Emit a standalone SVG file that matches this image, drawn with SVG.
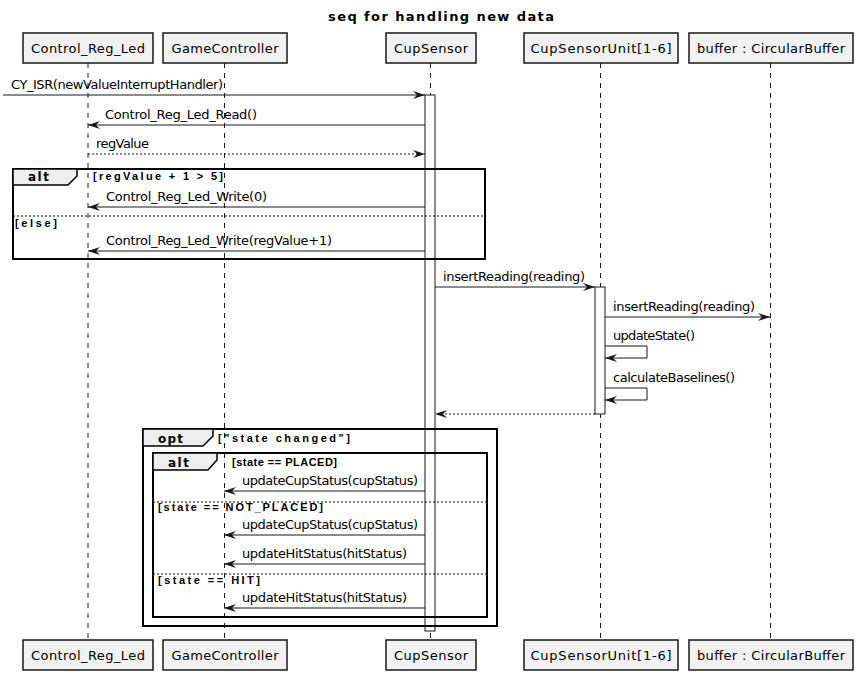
<svg xmlns="http://www.w3.org/2000/svg" width="862" height="680" viewBox="0 0 862 680">
  <style>
    text { font-family: "DejaVu Sans", "Liberation Sans", sans-serif; fill: #000; }
    .title { font-size: 13px; font-weight: bold; }
    .pname { font-size: 13px; }
    .msg { font-size: 13px; }
    .guard { font-family: "Liberation Sans", "DejaVu Sans", sans-serif; font-size: 11px; font-weight: bold; }
    .kw { font-size: 12px; font-weight: bold; }
    .pbox { fill: #F1F1F1; stroke: #181818; stroke-width: 1.5; }
    .life { stroke: #181818; stroke-width: 1; stroke-dasharray: 5,5; fill: none; }
    .act { fill: #FFFFFF; stroke: #181818; stroke-width: 1; }
    .call { stroke: #181818; stroke-width: 1; fill: none; marker-end: url(#head); }
    .ret { stroke: #181818; stroke-width: 1; fill: none; stroke-dasharray: 2,2; marker-end: url(#head); }
    .frame { fill: none; stroke: #000; stroke-width: 2; }
    .tab { fill: #EEEEEE; stroke: #000; stroke-width: 1.5; }
    .sep { stroke: #000; stroke-width: 1; stroke-dasharray: 2,2; }
  </style>
  <defs>
    <marker id="head" markerUnits="userSpaceOnUse" viewBox="0 0 12 10" refX="12" refY="5" markerWidth="12" markerHeight="10" orient="auto">
      <path d="M0,1 L12,5 L0,9 L4,5 Z" fill="#181818"/>
    </marker>
  </defs>

  <text class="title" x="441" y="21" text-anchor="middle" textLength="226">seq for handling new data</text>

  <!-- lifelines -->
  <g id="lifelines">
    <line class="life" x1="88" y1="63" x2="88" y2="640"/>
    <line class="life" x1="224.5" y1="63" x2="224.5" y2="640"/>
    <line class="life" x1="430.5" y1="63" x2="430.5" y2="640"/>
    <line class="life" x1="600.5" y1="63" x2="600.5" y2="640"/>
    <line class="life" x1="770.5" y1="63" x2="770.5" y2="640"/>
  </g>

  <!-- participants -->
  <g id="Control_Reg_Led">
    <rect class="pbox" x="23" y="33" width="130" height="30"/>
    <text class="pname" x="88" y="53" text-anchor="middle" textLength="114">Control_Reg_Led</text>
    <rect class="pbox" x="23" y="640" width="130" height="30"/>
    <text class="pname" x="88" y="660" text-anchor="middle" textLength="114">Control_Reg_Led</text>
  </g>
  <g id="GameController">
    <rect class="pbox" x="163" y="33" width="124" height="30"/>
    <text class="pname" x="225" y="53" text-anchor="middle" textLength="107">GameController</text>
    <rect class="pbox" x="163" y="640" width="124" height="30"/>
    <text class="pname" x="225" y="660" text-anchor="middle" textLength="107">GameController</text>
  </g>
  <g id="CupSensor">
    <rect class="pbox" x="386" y="33" width="90" height="30"/>
    <text class="pname" x="431" y="53" text-anchor="middle" textLength="74">CupSensor</text>
    <rect class="pbox" x="386" y="640" width="90" height="30"/>
    <text class="pname" x="431" y="660" text-anchor="middle" textLength="74">CupSensor</text>
  </g>
  <g id="CupSensorUnit">
    <rect class="pbox" x="524" y="33" width="154" height="30"/>
    <text class="pname" x="601" y="53" text-anchor="middle" textLength="141">CupSensorUnit[1-6]</text>
    <rect class="pbox" x="524" y="640" width="154" height="30"/>
    <text class="pname" x="601" y="660" text-anchor="middle" textLength="141">CupSensorUnit[1-6]</text>
  </g>
  <g id="buffer">
    <rect class="pbox" x="689" y="33" width="164" height="30"/>
    <text class="pname" x="771" y="53" text-anchor="middle" textLength="148">buffer : CircularBuffer</text>
    <rect class="pbox" x="689" y="640" width="164" height="30"/>
    <text class="pname" x="771" y="660" text-anchor="middle" textLength="148">buffer : CircularBuffer</text>
  </g>

  <!-- activations -->
  <g id="activations">
    <rect class="act" x="425" y="95" width="10" height="536"/>
    <rect class="act" x="595" y="287" width="10" height="127"/>
  </g>

  <!-- combined fragments -->
  <g id="fragments">
    <rect class="frame" x="13" y="169" width="472" height="90"/>
    <polygon class="tab" points="13,169 77,169 77,176 68,185 13,185"/>
    <text class="kw" x="28" y="181" textLength="21">alt</text>
    <text class="guard" x="93" y="180" textLength="130">[regValue + 1 &gt; 5]</text>
    <line class="sep" x1="13" y1="216" x2="485" y2="216"/>
    <text class="guard" x="15" y="227" textLength="42">[else]</text>

    <rect class="frame" x="143" y="429" width="354" height="197"/>
    <polygon class="tab" points="143,429 213,429 213,436 203,446 143,446"/>
    <text class="kw" x="158" y="443" textLength="25">opt</text>
    <text class="guard" x="218" y="442" textLength="132">["state changed"]</text>

    <rect class="frame" x="153" y="453" width="334" height="164"/>
    <polygon class="tab" points="153,453 217,453 217,460 208,470 153,470"/>
    <text class="kw" x="168" y="467" textLength="21">alt</text>
    <text class="guard" x="232" y="466" textLength="105">[state == PLACED]</text>
    <line class="sep" x1="153" y1="502" x2="487" y2="502"/>
    <text class="guard" x="158" y="511" textLength="165">[state == NOT_PLACED]</text>
    <line class="sep" x1="153" y1="574" x2="487" y2="574"/>
    <text class="guard" x="158" y="584" textLength="102">[state == HIT]</text>
  </g>

  <!-- messages -->
  <g id="connectors">
    <line class="call" x1="3" y1="95" x2="425" y2="95"/>
    <text class="msg" x="11" y="89" textLength="212">CY_ISR(newValueInterruptHandler)</text>

    <line class="call" x1="425" y1="125" x2="88" y2="125"/>
    <text class="msg" x="105" y="119" textLength="152">Control_Reg_Led_Read()</text>

    <line class="ret" x1="88" y1="154" x2="425" y2="154"/>
    <text class="msg" x="96" y="148" textLength="53">regValue</text>

    <line class="call" x1="425" y1="207" x2="88" y2="207"/>
    <text class="msg" x="106" y="201" textLength="161">Control_Reg_Led_Write(0)</text>

    <line class="call" x1="425" y1="251" x2="88" y2="251"/>
    <text class="msg" x="106" y="245" textLength="226">Control_Reg_Led_Write(regValue+1)</text>

    <line class="call" x1="435" y1="287" x2="595" y2="287"/>
    <text class="msg" x="443" y="281" textLength="142">insertReading(reading)</text>

    <line class="call" x1="605" y1="317" x2="770" y2="317"/>
    <text class="msg" x="613" y="311" textLength="142">insertReading(reading)</text>

    <path class="call" d="M605,346 H647 V358 H605"/>
    <text class="msg" x="613" y="340" textLength="82">updateState()</text>

    <path class="call" d="M605,388 H647 V400 H605"/>
    <text class="msg" x="613" y="382" textLength="122">calculateBaselines()</text>

    <line class="ret" x1="595" y1="414" x2="435" y2="414"/>

    <line class="call" x1="425" y1="491" x2="224" y2="491"/>
    <text class="msg" x="242" y="485" textLength="176">updateCupStatus(cupStatus)</text>

    <line class="call" x1="425" y1="535" x2="224" y2="535"/>
    <text class="msg" x="242" y="529" textLength="176">updateCupStatus(cupStatus)</text>

    <line class="call" x1="425" y1="564" x2="224" y2="564"/>
    <text class="msg" x="242" y="558" textLength="165">updateHitStatus(hitStatus)</text>

    <line class="call" x1="425" y1="608" x2="224" y2="608"/>
    <text class="msg" x="242" y="602" textLength="165">updateHitStatus(hitStatus)</text>
  </g>
</svg>
